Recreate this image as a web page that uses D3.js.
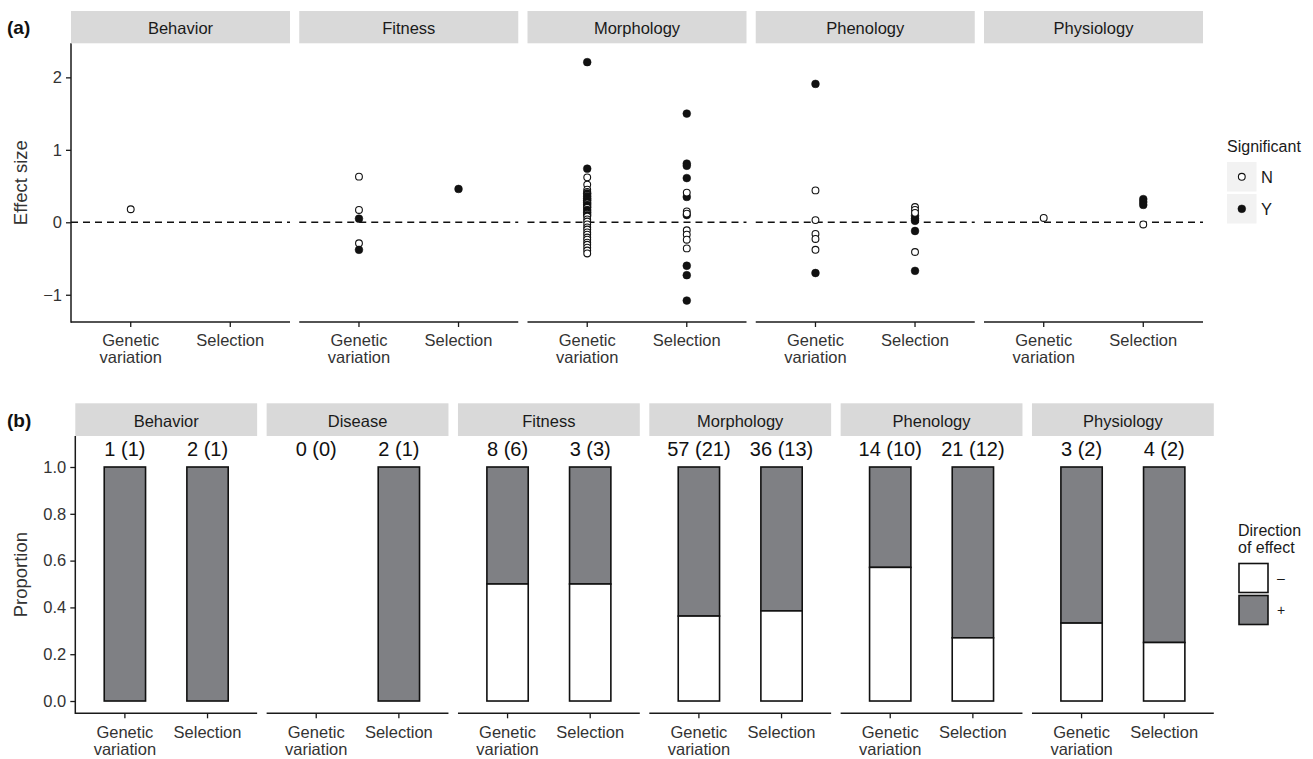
<!DOCTYPE html>
<html>
<head>
<meta charset="utf-8">
<script src="https://cdn.jsdelivr.net/npm/d3@7"></script>
<style>
  html, body { margin: 0; padding: 0; background: #fff; }
  svg { display: block; font-family: "Liberation Sans", Arial, sans-serif; }
</style>
</head>
<body>
<svg id="chart" width="1313" height="759"></svg>
<script>
// ---- Panel (a): effect sizes by trait type ----
const traitsA = ["Behavior", "Fitness", "Morphology", "Phenology", "Physiology"];
const studyTypes = ["Genetic variation", "Selection"];
const effectTicks = [-1, 0, 1, 2];

// Each entry: [effect size, significant?]
const behaviorGenetic = [[0.18, "N"]];
const behaviorSelection = [];
const fitnessGenetic = [[0.63, "N"], [0.17, "N"], [0.05, "Y"], [-0.29, "N"], [-0.38, "Y"]];
const fitnessSelection = [[0.46, "Y"]];
const morphologyGenetic = [
  [2.21, "Y"], [0.74, "Y"], [0.62, "N"], [0.52, "N"], [0.45, "N"], [0.42, "N"], [0.40, "Y"],
  [0.38, "N"], [0.36, "Y"], [0.33, "Y"], [0.31, "N"], [0.30, "Y"], [0.27, "Y"], [0.26, "N"],
  [0.24, "Y"], [0.21, "Y"], [0.20, "N"], [0.17, "Y"], [0.14, "Y"], [0.12, "N"], [0.10, "Y"],
  [0.08, "N"], [0.04, "N"], [0.01, "N"], [-0.03, "N"], [-0.07, "N"], [-0.10, "N"], [-0.14, "N"],
  [-0.17, "N"], [-0.21, "N"], [-0.24, "N"], [-0.28, "N"], [-0.31, "N"], [-0.35, "N"],
  [-0.39, "N"], [-0.43, "N"]
];
const morphologySelection = [
  [1.50, "Y"], [0.81, "Y"], [0.78, "Y"], [0.61, "Y"], [0.35, "Y"], [0.41, "N"], [0.10, "Y"],
  [0.15, "N"], [0.12, "N"], [-0.11, "N"], [-0.17, "N"], [-0.24, "N"], [-0.36, "N"],
  [-0.60, "Y"], [-0.73, "Y"], [-1.08, "Y"]
];
const phenologyGenetic = [[1.91, "Y"], [0.44, "N"], [0.03, "N"], [-0.16, "N"], [-0.23, "N"], [-0.38, "N"], [-0.70, "Y"]];
const phenologySelection = [[0.09, "Y"], [0.05, "Y"], [0.02, "Y"], [0.21, "N"], [0.17, "N"], [0.13, "N"], [-0.12, "Y"], [-0.41, "N"], [-0.67, "Y"]];
const physiologyGenetic = [[0.06, "N"]];
const physiologySelection = [[0.32, "Y"], [0.28, "Y"], [0.24, "Y"], [-0.03, "N"]];

const effectsByTrait = {
  Behavior: [behaviorGenetic, behaviorSelection],
  Fitness: [fitnessGenetic, fitnessSelection],
  Morphology: [morphologyGenetic, morphologySelection],
  Phenology: [phenologyGenetic, phenologySelection],
  Physiology: [physiologyGenetic, physiologySelection]
};

// ---- Panel (b): direction of effect ----
const traitsB = ["Behavior", "Disease", "Fitness", "Morphology", "Phenology", "Physiology"];
const propNegativeGenetic = [0, null, 0.5, 0.363, 0.571, 0.333];
const propNegativeSelection = [0, 0, 0.5, 0.385, 0.27, 0.25];
const countLabelsGenetic = ["1 (1)", "0 (0)", "8 (6)", "57 (21)", "14 (10)", "3 (2)"];
const countLabelsSelection = ["2 (1)", "2 (1)", "3 (3)", "36 (13)", "21 (12)", "4 (2)"];
const proportionTicks = [0, 0.2, 0.4, 0.6, 0.8, 1.0];

const svg = d3.select("#chart");
const INK = "#1a1a1a";
const TICK_TEXT = "#333";
const STRIP_FILL = "#d9d9d9";
const BAR_GREY = "#7f8084";

function xLabel(g, x, y, label) {
  const words = label === "Genetic variation" ? ["Genetic", "variation"] : [label];
  const t = g.append("text").attr("x", x).attr("y", y)
    .attr("text-anchor", "middle").attr("font-size", 16.5).attr("fill", TICK_TEXT);
  words.forEach((w, i) => t.append("tspan").attr("x", x).attr("dy", i === 0 ? 0 : 17).text(w));
}

// ================= Panel (a) =================
const aTop = 43.3, aBottom = 322, aStripTop = 11;
const panelA = d3.scaleBand().domain(traitsA).range([71, 1203]).paddingInner(0.0405);
const yA = d3.scaleLinear().domain([-1.376, 2.47]).range([aBottom, aTop]);

svg.append("text").attr("x", 7).attr("y", 33.5).attr("font-size", 19)
  .attr("font-weight", "bold").attr("fill", "#111").text("(a)");

svg.append("text")
  .attr("transform", `translate(20,${(aTop + aBottom) / 2}) rotate(-90)`)
  .attr("text-anchor", "middle").attr("dominant-baseline", "central")
  .attr("font-size", 18.5).attr("fill", "#333").text("Effect size");

const yAxisA = svg.append("g").attr("transform", "translate(71,0)")
  .call(d3.axisLeft(yA).tickValues(effectTicks).tickFormat(d3.format("d")).tickSize(5).tickPadding(4));
yAxisA.select(".domain").remove();
yAxisA.selectAll(".tick line").attr("stroke", INK).attr("stroke-width", 1.3);
yAxisA.selectAll(".tick text").attr("font-size", 16.5).attr("fill", TICK_TEXT)
  .attr("font-family", "Liberation Sans, Arial, sans-serif");
svg.append("line").attr("x1", 71).attr("x2", 71).attr("y1", aTop).attr("y2", aBottom + 0.7)
  .attr("stroke", INK).attr("stroke-width", 1.5);

traitsA.forEach(trait => {
  const x0 = panelA(trait), w = panelA.bandwidth();
  const g = svg.append("g");
  g.append("rect").attr("x", x0).attr("y", aStripTop).attr("width", w).attr("height", aTop - aStripTop)
    .attr("fill", STRIP_FILL);
  g.append("text").attr("x", x0 + w / 2).attr("y", (aStripTop + aTop) / 2 + 1)
    .attr("text-anchor", "middle").attr("dominant-baseline", "central")
    .attr("font-size", 16.5).attr("fill", INK).text(trait);

  const xP = d3.scalePoint().domain(studyTypes).range([x0, x0 + w]).padding(0.6);

  g.append("line").attr("x1", x0).attr("x2", x0 + w).attr("y1", yA(0)).attr("y2", yA(0))
    .attr("stroke", "#111").attr("stroke-width", 1.6).attr("stroke-dasharray", "7,5");

  g.append("line").attr("x1", x0).attr("x2", x0 + w).attr("y1", aBottom).attr("y2", aBottom)
    .attr("stroke", INK).attr("stroke-width", 1.5);
  studyTypes.forEach(st => {
    g.append("line").attr("x1", xP(st)).attr("x2", xP(st)).attr("y1", aBottom).attr("y2", aBottom + 5)
      .attr("stroke", INK).attr("stroke-width", 1.3);
    xLabel(g, xP(st), 345.5, st);
  });

  effectsByTrait[trait].forEach((pts, i) => {
    const st = studyTypes[i];
    g.selectAll(null).data(pts).enter().append("circle")
      .attr("cx", xP(st)).attr("cy", d => yA(d[0]))
      .attr("r", d => d[1] === "Y" ? 3.9 : 3.4)
      .attr("fill", d => d[1] === "Y" ? "#111" : "#fff")
      .attr("stroke", "#111").attr("stroke-width", d => d[1] === "Y" ? 0.5 : 1.1);
  });
});

// legend (a)
const legA = svg.append("g");
legA.append("text").attr("x", 1227).attr("y", 151.5).attr("font-size", 16).attr("fill", INK).text("Significant");
["N", "Y"].forEach((s, i) => {
  const ky = 162 + i * 32;
  legA.append("rect").attr("x", 1227).attr("y", ky).attr("width", 29.5).attr("height", 29.5).attr("fill", "#f2f2f2");
  legA.append("circle").attr("cx", 1241.8).attr("cy", ky + 14.8)
    .attr("r", s === "Y" ? 3.9 : 3.4)
    .attr("fill", s === "Y" ? "#111" : "#fff").attr("stroke", "#111").attr("stroke-width", s === "Y" ? 0.5 : 1.1);
  legA.append("text").attr("x", 1261).attr("y", ky + 15).attr("dominant-baseline", "central")
    .attr("font-size", 16.5).attr("fill", INK).text(s);
});

// ================= Panel (b) =================
const bTop = 436, bBottom = 713.3, bStripTop = 403.3;
const panelB = d3.scaleBand().domain(traitsB).range([75.3, 1213.8]).paddingInner(0.0497);
const yB = d3.scaleLinear().domain([-0.0525, 1.1325]).range([bBottom, bTop]);
const countLabelValue = 1.075;

svg.append("text").attr("x", 7).attr("y", 427).attr("font-size", 19)
  .attr("font-weight", "bold").attr("fill", "#111").text("(b)");

svg.append("text")
  .attr("transform", `translate(20,${(bTop + bBottom) / 2}) rotate(-90)`)
  .attr("text-anchor", "middle").attr("dominant-baseline", "central")
  .attr("font-size", 18.5).attr("fill", "#333").text("Proportion");

const yAxisB = svg.append("g").attr("transform", "translate(75.3,0)")
  .call(d3.axisLeft(yB).tickValues(proportionTicks).tickFormat(d3.format(".1f")).tickSize(5).tickPadding(4));
yAxisB.select(".domain").remove();
yAxisB.selectAll(".tick line").attr("stroke", INK).attr("stroke-width", 1.3);
yAxisB.selectAll(".tick text").attr("font-size", 16.5).attr("fill", TICK_TEXT)
  .attr("font-family", "Liberation Sans, Arial, sans-serif");
svg.append("line").attr("x1", 75.3).attr("x2", 75.3).attr("y1", bTop).attr("y2", bBottom + 0.7)
  .attr("stroke", INK).attr("stroke-width", 1.5);

traitsB.forEach((trait, ti) => {
  const x0 = panelB(trait), w = panelB.bandwidth();
  const g = svg.append("g");
  g.append("rect").attr("x", x0).attr("y", bStripTop).attr("width", w).attr("height", bTop - bStripTop)
    .attr("fill", STRIP_FILL);
  g.append("text").attr("x", x0 + w / 2).attr("y", (bStripTop + bTop) / 2 + 1)
    .attr("text-anchor", "middle").attr("dominant-baseline", "central")
    .attr("font-size", 16.5).attr("fill", INK).text(trait);

  const xP = d3.scalePoint().domain(studyTypes).range([x0, x0 + w]).padding(0.6);
  const barW = xP.step() * 0.5;

  g.append("line").attr("x1", x0).attr("x2", x0 + w).attr("y1", bBottom).attr("y2", bBottom)
    .attr("stroke", INK).attr("stroke-width", 1.5);

  const props = [propNegativeGenetic[ti], propNegativeSelection[ti]];
  const counts = [countLabelsGenetic[ti], countLabelsSelection[ti]];

  studyTypes.forEach((st, si) => {
    const cx = xP(st);
    g.append("line").attr("x1", cx).attr("x2", cx).attr("y1", bBottom).attr("y2", bBottom + 5)
      .attr("stroke", INK).attr("stroke-width", 1.3);
    xLabel(g, cx, 738, st);

    const p = props[si];
    if (p !== null) {
      // positive share stacked above the negative share
      g.append("rect").attr("x", cx - barW / 2).attr("y", yB(1)).attr("width", barW)
        .attr("height", yB(p) - yB(1)).attr("fill", BAR_GREY).attr("stroke", "#111").attr("stroke-width", 1.6);
      if (p > 0) {
        g.append("rect").attr("x", cx - barW / 2).attr("y", yB(p)).attr("width", barW)
          .attr("height", yB(0) - yB(p)).attr("fill", "#fff").attr("stroke", "#111").attr("stroke-width", 1.6);
      }
    }
    g.append("text").attr("x", cx).attr("y", yB(countLabelValue))
      .attr("text-anchor", "middle").attr("dominant-baseline", "central")
      .attr("font-size", 20).attr("fill", "#111").text(counts[si]);
  });
});

// legend (b)
const legB = svg.append("g");
legB.append("text").attr("x", 1238).attr("y", 536).attr("font-size", 16).attr("fill", INK).text("Direction");
legB.append("text").attr("x", 1238).attr("y", 553).attr("font-size", 16).attr("fill", INK).text("of effect");
[["\u2013", "#fff"], ["+", BAR_GREY]].forEach(([lab, fill], i) => {
  const ky = 563.5 + i * 32;
  legB.append("rect").attr("x", 1239).attr("y", ky).attr("width", 29).attr("height", 29)
    .attr("fill", fill).attr("stroke", "#111").attr("stroke-width", 1.6);
  legB.append("text").attr("x", 1277).attr("y", ky + 14.5).attr("dominant-baseline", "central")
    .attr("font-size", 14).attr("fill", INK).text(lab);
});
</script>
</body>
</html>
